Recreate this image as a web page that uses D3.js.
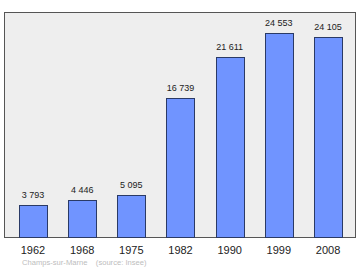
<!DOCTYPE html>
<html>
<head>
<meta charset="utf-8">
<script src="https://cdn.jsdelivr.net/npm/d3@7"></script>
<style>
  body { margin: 0; background: #fff; }
  svg { display: block; }
</style>
</head>
<body>
<div id="chart"></div>
<script>
const years = ["1962", "1968", "1975", "1982", "1990", "1999", "2008"];
const population = [3793, 4446, 5095, 16739, 21611, 24553, 24105];
const sourceText = "Champs-sur-Marne    (source: Insee)";

const width = 360, height = 270;
const frame = { left: 4.5, top: 12.5, right: 355.5, bottom: 237.5 };

const svg = d3.select("#chart")
  .append("svg")
  .attr("width", width)
  .attr("height", height);

const x = d3.scaleBand()
  .domain(years)
  .range([8.4, 352.6])
  .paddingInner(0.43)
  .paddingOuter(0.215);

const y = d3.scaleLinear()
  .domain([0, 24553])
  .range([237, 33]);

// Plot background + frame
svg.append("rect")
  .attr("x", frame.left)
  .attr("y", frame.top)
  .attr("width", frame.right - frame.left)
  .attr("height", frame.bottom - frame.top)
  .attr("fill", "#eeeeee")
  .attr("stroke", "#555")
  .attr("stroke-width", 1);

const data = years.map((yr, i) => ({ year: yr, value: population[i] }));

// Bars
svg.selectAll(".bar")
  .data(data)
  .enter()
  .append("rect")
  .attr("class", "bar")
  .attr("x", d => Math.round(x(d.year)) + 0.5)
  .attr("y", d => Math.round(y(d.value)) + 0.5)
  .attr("width", Math.round(x.bandwidth()))
  .attr("height", d => y(0) - Math.round(y(d.value)))
  .attr("fill", "#7094ff")
  .attr("stroke", "#2a3a66")
  .attr("stroke-width", 1);

// Value labels
svg.selectAll(".val")
  .data(data)
  .enter()
  .append("text")
  .attr("x", d => x(d.year) + x.bandwidth() / 2)
  .attr("y", d => y(d.value) - 7)
  .attr("text-anchor", "middle")
  .attr("font-family", "Liberation Sans, Arial, sans-serif")
  .attr("font-size", "9px")
  .attr("fill", "#222")
  .text(d => d3.format(",")(d.value).replace(/,/g, " "));

// Year axis labels
svg.append("g")
  .attr("transform", `translate(0,${frame.bottom})`)
  .call(d3.axisBottom(x).tickSize(0).tickPadding(8.5))
  .call(g => g.select(".domain").remove())
  .selectAll("text")
  .attr("font-family", "Liberation Sans, Arial, sans-serif")
  .attr("font-size", "11px")
  .attr("fill", "#222");

// Source line
svg.append("text")
  .attr("x", 22)
  .attr("y", 265)
  .attr("font-family", "Liberation Sans, Arial, sans-serif")
  .attr("font-size", "7.6px")
  .attr("fill", "#bdbdbd")
  .attr("xml:space", "preserve")
  .style("white-space", "pre")
  .text(sourceText);
</script>
</body>
</html>
